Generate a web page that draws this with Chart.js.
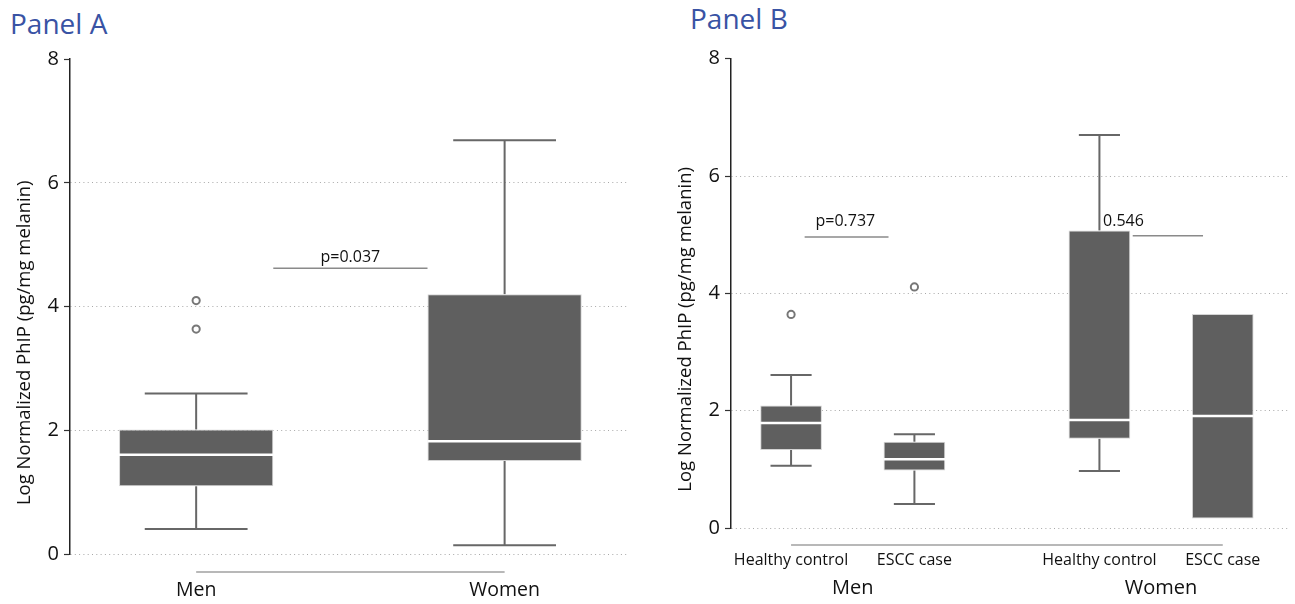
<!DOCTYPE html>
<html>
<head>
<meta charset="utf-8">
<script src="https://cdn.jsdelivr.net/npm/chart.js@4.4.0/dist/chart.umd.min.js"></script>
<style>
  body { margin: 0; background: #fff; width: 1295px; height: 604px; position: relative; overflow: hidden; font-family: 'Open Sans', sans-serif; }
  .panel-title { position: absolute; color: #3953a4; font-size: 28px; line-height: 1; white-space: nowrap; }
  canvas { position: absolute; top: 0; }
</style>
</head>
<body>
<div class="panel-title" style="left:10px; top:9px;">Panel A</div>
<div class="panel-title" style="left:690px; top:4px;">Panel B</div>
<canvas id="chartA" width="645" height="604" style="left:0"></canvas>
<canvas id="chartB" width="647" height="604" style="left:648px"></canvas>
<script>
// Panel A - men vs women
const sexLabels = ['Men', 'Women'];
const sexPos = [1, 2];
const sexLow = [0.41, 0.15];
const sexQ1 = [1.10, 1.51];
const sexMedian = [1.61, 1.83];
const sexQ3 = [2.02, 4.20];
const sexHigh = [2.60, 6.69];
const sexOutliers = [[4.10, 3.64], []];

// Panel B - healthy control vs ESCC case, within sex
const caseLabels = ['Healthy control', 'ESCC case', 'Healthy control', 'ESCC case'];
const casePos = [1, 2, 3.5, 4.5];
const caseLow = [1.06, 0.41, 0.97, null];
const caseQ1 = [1.33, 0.98, 1.52, 0.16];
const caseMedian = [1.79, 1.17, 1.84, 1.91];
const caseQ3 = [2.09, 1.47, 5.07, 3.65];
const caseHigh = [2.61, 1.60, 6.70, null];
const caseOutliers = [[3.64], [4.11], [], []];
const groupLabels = ['Men', 'Women'];
const groupPos = [1.5, 4];

const yTicks = [0, 2, 4, 6, 8];
const yTitle = 'Log Normalized PhIP (pg/mg melanin)';
const FONT = '"Open Sans", sans-serif';

function boxPlugin(cfg) {
  return {
    id: 'boxExtras',
    beforeDatasetsDraw(chart) {
      const { ctx, scales: { y } } = chart;
      const bars = chart.getDatasetMeta(0).data;
      ctx.save();
      ctx.strokeStyle = '#676767';
      ctx.lineWidth = 2;
      bars.forEach((bar, i) => {
        if (cfg.low[i] == null) return;
        const half = bar.width / 3;
        [[cfg.q1[i], cfg.low[i]], [cfg.q3[i], cfg.high[i]]].forEach(([from, to]) => {
          const yEnd = y.getPixelForValue(to);
          ctx.beginPath();
          ctx.moveTo(bar.x, y.getPixelForValue(from));
          ctx.lineTo(bar.x, yEnd);
          ctx.moveTo(bar.x - half, yEnd);
          ctx.lineTo(bar.x + half, yEnd);
          ctx.stroke();
        });
      });
      ctx.restore();
    },
    afterDatasetsDraw(chart) {
      const { ctx, chartArea, scales: { x, y } } = chart;
      const bars = chart.getDatasetMeta(0).data;
      ctx.save();
      // medians
      ctx.strokeStyle = '#ffffff';
      ctx.lineWidth = 2.5;
      bars.forEach((bar, i) => {
        const ym = y.getPixelForValue(cfg.median[i]);
        ctx.beginPath();
        ctx.moveTo(bar.x - bar.width / 2, ym);
        ctx.lineTo(bar.x + bar.width / 2, ym);
        ctx.stroke();
      });
      // p-value lines
      ctx.strokeStyle = '#8a8a8a';
      ctx.lineWidth = 1.5;
      ctx.fillStyle = '#111';
      ctx.font = '16px ' + FONT;
      ctx.textBaseline = 'alphabetic';
      cfg.brackets.forEach(b => {
        const yl = y.getPixelForValue(b.y);
        ctx.beginPath();
        ctx.moveTo(x.getPixelForValue(b.x1), yl);
        ctx.lineTo(x.getPixelForValue(b.x2), yl);
        ctx.stroke();
        ctx.textAlign = b.align;
        ctx.fillText(b.text, x.getPixelForValue(b.tx), y.getPixelForValue(b.ty));
      });
      // line under the categories
      ctx.strokeStyle = '#b8b8b8';
      ctx.lineWidth = 2;
      const yb = chartArea.bottom + cfg.baselineGap;
      ctx.beginPath();
      ctx.moveTo(x.getPixelForValue(cfg.pos[0]), yb);
      ctx.lineTo(x.getPixelForValue(cfg.pos[cfg.pos.length - 1]), yb);
      ctx.stroke();
      // group labels (panel B)
      ctx.fillStyle = '#111';
      ctx.textAlign = 'center';
      ctx.textBaseline = 'middle';
      ctx.font = '20px ' + FONT;
      (cfg.groups || []).forEach((g, i) => {
        ctx.fillText(g, x.getPixelForValue(cfg.groupPos[i]), chartArea.bottom + 60);
      });
      // y axis title
      ctx.translate(cfg.titleX, (chartArea.top + chartArea.bottom) / 2 + 36);
      ctx.rotate(-Math.PI / 2);
      ctx.font = '18.5px ' + FONT;
      ctx.fillText(yTitle, 0, 0);
      ctx.restore();
    }
  };
}

function makePanel(id, cfg) {
  const boxes = cfg.pos.map((p, i) => ({ x: p, y: [cfg.q1[i], cfg.q3[i]] }));
  const points = [];
  cfg.outliers.forEach((list, i) => list.forEach(v => points.push({ x: cfg.pos[i], y: v })));
  return new Chart(document.getElementById(id), {
    type: 'bar',
    data: {
      datasets: [
        { type: 'bar', data: boxes, backgroundColor: '#5f5f5f', borderColor: '#d4d4d4', borderWidth: 1,
          borderSkipped: false, barPercentage: 0.5, categoryPercentage: 1, order: 1 },
        { type: 'scatter', data: points, pointRadius: 3.6, pointBackgroundColor: '#fff',
          pointBorderColor: '#777', pointBorderWidth: 2, order: 0 }
      ]
    },
    options: {
      responsive: false,
      animation: false,
      layout: { padding: cfg.padding },
      plugins: { legend: { display: false }, tooltip: { enabled: false } },
      scales: {
        x: {
          type: 'linear', min: cfg.xMin, max: cfg.xMax, offset: false,
          grid: { display: false }, border: { display: false },
          afterBuildTicks: s => { s.ticks = cfg.pos.map(v => ({ value: v })); },
          afterFit: s => { s.height = cfg.xHeight; },
          ticks: { callback: (v, i) => cfg.labels[i], color: '#111', autoSkip: false, maxRotation: 0,
                   padding: cfg.xPad, font: { family: FONT, size: cfg.xFont } }
        },
        y: {
          min: 0, max: 8,
          afterBuildTicks: s => { s.ticks = yTicks.map(v => ({ value: v })); },
          afterFit: s => { s.width = cfg.yWidth; },
          grid: { color: c => (c.tick && c.tick.value === 8) ? 'rgba(0,0,0,0)' : '#a8a8a8', lineWidth: 1,
                  tickLength: 6, tickColor: '#333', tickWidth: 1.2, tickBorderDash: [] },
          border: { display: true, color: '#222', width: 1.5, dash: [1, 3.3] },
          ticks: { color: '#111', padding: 5, font: { family: FONT, size: 20 } }
        }
      }
    },
    plugins: [boxPlugin(cfg)]
  });
}

makePanel('chartA', {
  labels: sexLabels, pos: sexPos, low: sexLow, q1: sexQ1, median: sexMedian, q3: sexQ3, high: sexHigh,
  outliers: sexOutliers,
  xMin: 0.591, xMax: 2.40, xHeight: 49.5, xPad: 16, xFont: 19.5, yWidth: 70,
  padding: { top: 59, right: 17, bottom: 0, left: 0 },
  baselineGap: 17.5, titleX: 25,
  brackets: [{ x1: 1.25, x2: 1.75, y: 4.62, text: 'p=0.037', tx: 1.5, ty: 4.73, align: 'center' }]
});

makePanel('chartB', {
  labels: caseLabels, pos: casePos, low: caseLow, q1: caseQ1, median: caseMedian, q3: caseQ3, high: caseHigh,
  outliers: caseOutliers, groups: groupLabels, groupPos: groupPos,
  xMin: 0.513, xMax: 5.037, xHeight: 76, xPad: 15, xFont: 16, yWidth: 83,
  padding: { top: 58.7, right: 0, bottom: 0, left: 0 },
  baselineGap: 17, titleX: 38,
  brackets: [
    { x1: 1.11, x2: 1.79, y: 4.96, text: 'p=0.737', tx: 1.44, ty: 5.14, align: 'center' },
    { x1: 3.77, x2: 4.34, y: 4.98, text: '0.546', tx: 3.53, ty: 5.15, align: 'left' }
  ]
});
</script>
</body>
</html>
